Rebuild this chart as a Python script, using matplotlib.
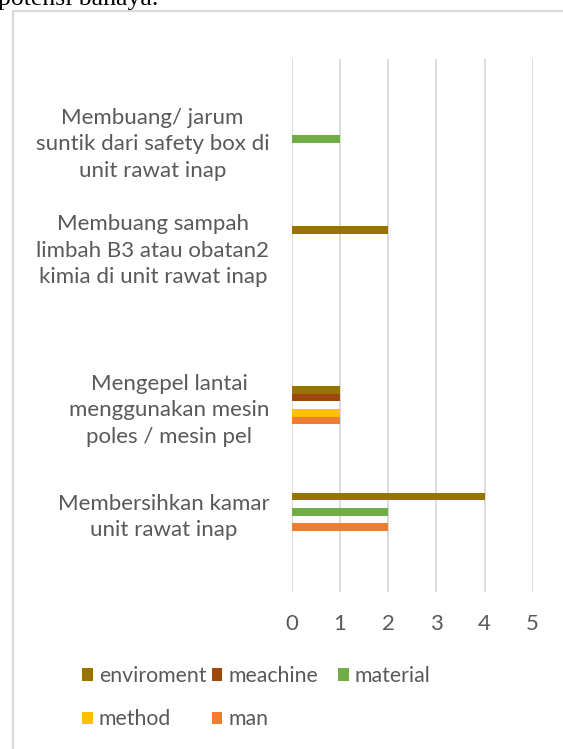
import numpy as np
import matplotlib
matplotlib.use("Agg")
from matplotlib import pyplot as plt
from matplotlib.patches import Rectangle

categories = [
    "Membuang/ jarum\nsuntik dari safety box di\nunit rawat inap",
    "Membuang sampah\nlimbah B3 atau obatan2\nkimia di unit rawat inap",
    "Mengepel lantai\nmenggunakan mesin\npoles / mesin pel",
    "Membersihkan kamar\nunit rawat inap",
]
series_names = ["enviroment", "meachine", "material", "method", "man"]
enviroment = [0, 2, 1, 4]
meachine = [0, 0, 1, 0]
material = [1, 0, 0, 2]
method = [0, 0, 1, 0]
man = [0, 0, 1, 2]
x_ticks = [0, 1, 2, 3, 4, 5]

# layout: the category axis has 10 slots, only these ones are labelled
slots = [1, 3, 6, 8]
n_slots = 10
colors = ["#997300", "#9e480e", "#70ad47", "#ffc000", "#ed7d31"]
grey = "#595959"
font = "Lato"
fsize = 16

W, H = 563, 749
fig = plt.figure(figsize=(W / 100, H / 100), dpi=100)

# frame of the chart object and the cut-off caption above it
fig.patches.append(Rectangle((12.5 / W, -0.1), 1.0, 1 - 11 / H + 0.1,
                             transform=fig.transFigure, fill=False,
                             ec="#d9d9d9", lw=1.6))
fig.text(-2 / W, 1 - 5 / H, "potensi bahaya.", family="Liberation Serif",
         size=18.5, va="baseline", color="black")

left, right, top, bottom = 291.7, 532.7, 59, 591.7
ax = fig.add_axes([left / W, 1 - bottom / H, (right - left) / W, (bottom - top) / H])

y = np.array(slots) + 0.5
h = 0.1426
values = [enviroment, meachine, material, method, man]
bars = []
for i, (name, vals, col) in enumerate(zip(series_names, values, colors)):
    b = ax.barh(y + (i - 2) * h, vals, height=h, color=col, label=name, zorder=3)
    bars.append(b)

ax.set_ylim(n_slots, 0)
ax.set_xlim(0, 5)
ax.set_xticks(x_ticks)
ax.set_yticks(y, categories)
for lab in ax.get_yticklabels():
    lab.set_multialignment("center")
    lab.set_linespacing(1.4)
    lab.set_family(font)
for lab in ax.get_xticklabels():
    lab.set_family(font)
ax.tick_params(axis="y", length=0, pad=16, labelcolor=grey, labelsize=fsize)
ax.tick_params(axis="x", length=0, pad=16, labelcolor=grey, labelsize=fsize)
ax.grid(axis="x", color="#d9d9d9", lw=1.3)
ax.set_axisbelow(True)
for s in ax.spines.values():
    s.set_visible(False)

leg_kw = dict(frameon=False, handlelength=0.5, handleheight=0.5,
              handletextpad=0.3, labelspacing=1.1, borderpad=0,
              borderaxespad=0, prop={"family": font, "size": 15.3},
              labelcolor=grey, loc="upper left")
order = [0, 3, 1, 4]
leg1 = fig.legend([bars[i] for i in order], [series_names[i] for i in order],
                  ncol=2, columnspacing=0.25,
                  bbox_to_anchor=(82 / W, 1 - 666 / H), **leg_kw)
leg2 = fig.legend([bars[2]], [series_names[2]],
                  bbox_to_anchor=(338 / W, 1 - 666 / H), **leg_kw)

fig.savefig("out.png", dpi=100)
